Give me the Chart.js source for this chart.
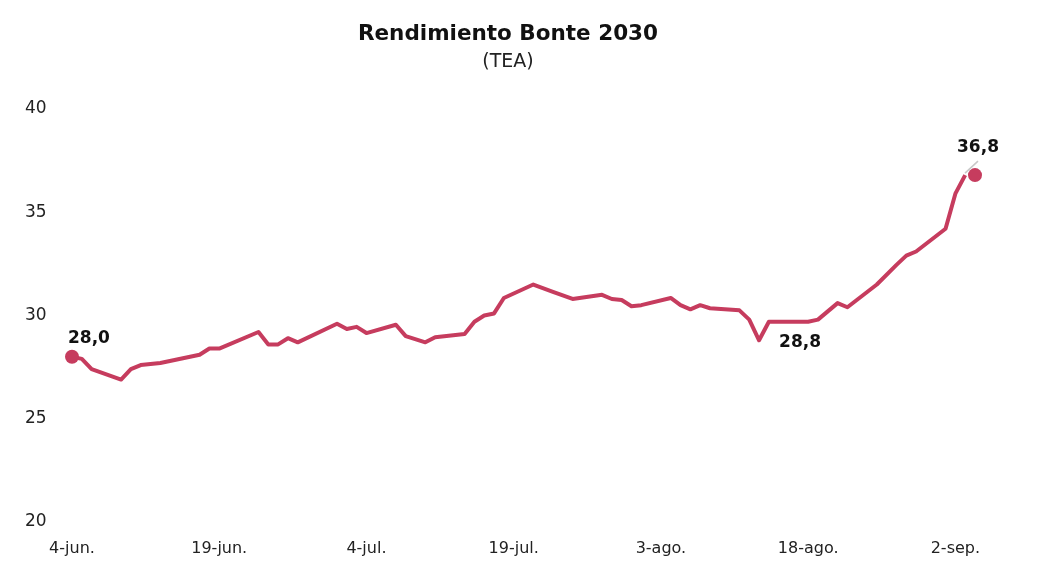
<!DOCTYPE html>
<html>
<head>
<meta charset="utf-8">
<script src="https://cdn.jsdelivr.net/npm/chart.js@4.4.0/dist/chart.umd.min.js"></script>
<style>
  html, body { margin: 0; padding: 0; background: #fff; }
  #wrap { width: 1045px; height: 567px; }
</style>
</head>
<body>
<div id="wrap"><canvas id="chart"></canvas></div>
<script>
// days counted from 4-jun
const days = [0, 1, 2, 5, 6, 7, 9, 13, 14, 15, 19, 20, 21, 22, 23, 27, 28, 29, 30, 33, 34, 36, 37, 40,
  41, 42, 43, 44, 47, 49, 51, 54, 55, 56, 57, 58, 61, 62, 63, 64, 65, 68, 69, 70, 71, 75, 76, 78, 79,
  82, 84, 85, 86, 89, 90, 91]
const yields = [28.0, 27.9, 27.4, 26.9, 27.4, 27.6, 27.7, 28.1, 28.4, 28.4, 29.2, 28.6, 28.6, 28.9, 28.7,
  29.6, 29.35, 29.45, 29.15, 29.55, 29.0, 28.7, 28.95, 29.1, 29.7, 30.0, 30.1, 30.85, 31.5, 31.15, 30.8,
  31.0, 30.8, 30.75, 30.45, 30.5, 30.85, 30.5, 30.3, 30.5, 30.35, 30.25, 29.8, 28.8, 29.7, 29.7, 29.8,
  30.6, 30.4, 31.5, 32.45, 32.9, 33.1, 34.2, 35.9, 36.8]
const markerDays = [0, 92]
const markerValues = [28.0, 36.8]
const tickDays = [0, 15, 30, 45, 60, 75, 90]
const tickLabels = ['4-jun.', '19-jun.', '4-jul.', '19-jul.', '3-ago.', '18-ago.', '2-sep.']
const yTicks = [20, 25, 30, 35, 40]

const RED = '#C63C5E'
const FONT = '"DejaVu Sans", sans-serif'

const labelPlugin = {
    id: 'labels',
    afterDatasetsDraw(chart) {
        const { ctx, scales: { x, y } } = chart
        ctx.save()
        // title
        ctx.fillStyle = '#111'
        ctx.textAlign = 'center'
        ctx.textBaseline = 'middle'
        ctx.font = `bold 21.5px ${FONT}`
        ctx.fillText('Rendimiento Bonte 2030', 508, 34)
        ctx.font = `19px ${FONT}`
        ctx.fillStyle = '#222'
        ctx.fillText('(TEA)', 508, 62)

        // point labels
        ctx.font = `bold 17px ${FONT}`
        ctx.fillStyle = '#111'
        ctx.textAlign = 'left'
        const first = { px: x.getPixelForValue(markerDays[0]), py: y.getPixelForValue(markerValues[0]) }
        ctx.fillText('28,0', first.px - 4, first.py - 18)

        const minIdx = yields.indexOf(Math.min(...yields.slice(40)), 40)
        const lowX = x.getPixelForValue(days[minIdx])
        const lowY = y.getPixelForValue(yields[minIdx])
        ctx.fillText('28,8', lowX + 20, lowY + 2)

        const lastX = x.getPixelForValue(markerDays[1])
        const lastY = y.getPixelForValue(markerValues[1])
        ctx.strokeStyle = '#c8c8c8'
        ctx.lineWidth = 1.5
        ctx.beginPath()
        ctx.moveTo(lastX - 10, lastY - 2)
        ctx.lineTo(lastX + 3, lastY - 14)
        ctx.stroke()
        ctx.textAlign = 'center'
        ctx.fillText('36,8', lastX + 3, lastY - 28)
        ctx.restore()
    }
}

new Chart(document.getElementById('chart'), {
    type: 'line',
    data: {
        datasets: [
            {
                data: days.map((d, i) => ({ x: d, y: yields[i] })),
                borderColor: RED,
                borderWidth: 4,
                pointRadius: 0,
                tension: 0,
                borderJoinStyle: 'round',
                clip: false,
                order: 2
            },
            {
                data: markerDays.map((d, i) => ({ x: d, y: markerValues[i] })),
                showLine: false,
                pointRadius: 7,
                pointBackgroundColor: RED,
                pointBorderWidth: 0,
                clip: false,
                order: 1
            }
        ]
    },
    options: {
        responsive: true,
        maintainAspectRatio: false,
        animation: false,
        layout: {
            padding: { top: 109, left: 25, right: 70, bottom: 5 }
        },
        plugins: {
            legend: { display: false },
            tooltip: { enabled: false }
        },
        scales: {
            x: {
                type: 'linear',
                min: 0,
                max: 92,
                grid: { display: false },
                border: { display: false },
                afterBuildTicks: (scale) => { scale.ticks = tickDays.map(v => ({ value: v })) },
                afterFit: (scale) => { scale.height = 40 },
                ticks: {
                    padding: 9,
                    maxRotation: 0,
                    autoSkip: false,
                    color: '#222',
                    font: { family: FONT, size: 16 },
                    callback: (v) => tickLabels[tickDays.indexOf(v)] ?? ''
                }
            },
            y: {
                min: 20,
                max: 40,
                grid: { display: false },
                border: { display: false },
                afterBuildTicks: (scale) => { scale.ticks = yTicks.map(v => ({ value: v })) },
                afterFit: (scale) => { scale.width = 47 },
                ticks: {
                    crossAlign: 'far',
                    color: '#222',
                    font: { family: FONT, size: 17 }
                }
            }
        }
    },
    plugins: [labelPlugin]
});
</script>
</body>
</html>
